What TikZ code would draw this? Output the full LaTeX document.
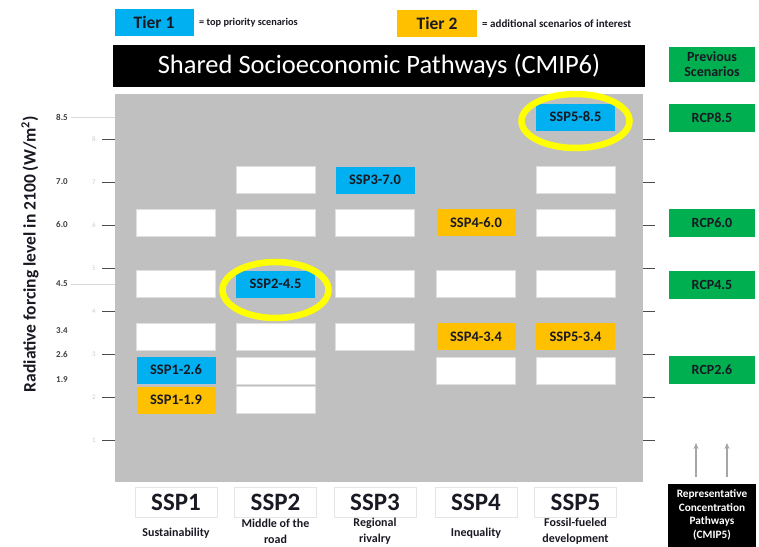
\documentclass[tikz,border=0pt]{standalone}
\usepackage{fontspec}
\setmainfont{Carlito}
\usetikzlibrary{arrows.meta}
\definecolor{tierblue}{RGB}{0,176,240}
\definecolor{tierorange}{RGB}{255,192,0}
\definecolor{rcpgreen}{RGB}{0,176,80}
\definecolor{panelgrey}{RGB}{192,192,192}
\definecolor{hiyellow}{RGB}{255,255,0}
\definecolor{txtdark}{RGB}{25,25,35}
\begin{document}
\begin{tikzpicture}[x=1pt,y=-1pt,
  scen/.style={minimum width=79pt,minimum height=27pt,inner sep=0pt,
    font=\fontsize{14.5}{14.5}\selectfont\bfseries,text=txtdark},
  blank/.style={scen,fill=white,draw=gray!25,line width=0.6pt},
  tone/.style={scen,fill=tierblue},
  ttwo/.style={scen,fill=tierorange},
  rcp/.style={fill=rcpgreen,minimum width=86pt,minimum height=28pt,inner sep=0pt,
    font=\fontsize{14}{14}\selectfont\bfseries,text=txtdark},
  ring/.style={draw=hiyellow,line width=6.5pt},
  ssp/.style={fill=white,draw=gray!20,minimum width=82pt,minimum height=30pt,inner sep=0pt,
    font=\fontsize{25}{25}\selectfont\bfseries,text=txtdark},
  sub/.style={font=\fontsize{12}{16}\selectfont\bfseries,text=txtdark,align=center},
  lev/.style={font=\fontsize{9}{9}\selectfont\bfseries,text=black!75},
  faint/.style={font=\fontsize{7}{7}\selectfont,text=black!20},
  tick/.style={draw=black!70,line width=0.8pt},
  uparrow/.style={draw=black!35,line width=1.3pt,-{Stealth[length=6pt,width=5pt]}}
]
\useasboundingbox (0,0) rectangle (759,546);
\fill[white] (0,0) rectangle (759,546);

% legend
\node[fill=tierblue,minimum width=79pt,minimum height=27pt,inner sep=0pt,
  font=\fontsize{17.5}{17.5}\selectfont\bfseries,text=txtdark] (tier1) at (154,22) {Tier 1};
\node[anchor=west,inner sep=0pt,font=\fontsize{10.3}{10.3}\selectfont\bfseries,text=txtdark]
  (tier1txt) at (199,23) {= top priority scenarios};
\node[fill=tierorange,minimum width=80pt,minimum height=27pt,inner sep=0pt,
  font=\fontsize{17.5}{17.5}\selectfont\bfseries,text=txtdark] (tier2) at (437,23) {Tier 2};
\node[anchor=west,inner sep=0pt,font=\fontsize{11}{11}\selectfont\bfseries,text=txtdark]
  (tier2txt) at (482,24) {= additional scenarios of interest};

% title
\node[fill=black,minimum width=532pt,minimum height=42pt,inner sep=0pt,
  font=\fontsize{26.5}{26.5}\selectfont,text=white] (title) at (379,66)
  {Shared Socioeconomic Pathways (CMIP6)};
\node[fill=rcpgreen,minimum width=86pt,minimum height=35pt,inner sep=0pt,align=center,
  font=\fontsize{14}{14.5}\selectfont\bfseries,text=txtdark] (prev) at (712,64)
  {Previous\\Scenarios};

% panel
\node[fill=panelgrey,minimum width=528pt,minimum height=388pt,inner sep=0pt] (panel) at (379,288) {};

% axis title
\node[rotate=90,font=\fontsize{17.5}{17.5}\selectfont\bfseries,text=txtdark] (ytitle) at (30,254)
  {Radiative forcing level in 2100 (W/m\textsuperscript{2})};

% level labels
\node[lev] (l85) at (62,117) {8.5};
\node[lev] (l70) at (62,182) {7.0};
\node[lev] (l60) at (62,224) {6.0};
\node[lev] (l45) at (62,284) {4.5};
\node[lev] (l34) at (62,331) {3.4};
\node[lev] (l26) at (62,354) {2.6};
\node[lev] (l19) at (62,380) {1.9};
\draw[black!15,line width=0.6pt] (l85.east) -- (115,117);
\draw[black!15,line width=0.6pt] (l45.east) -- (115,284);

% ticks
\foreach \v in {8,7,6,5,4,3,2,1}{
  \pgfmathsetmacro{\yy}{139+(8-\v)*43}
  \draw[tick] (102,\yy) -- (115,\yy);
  \draw[tick] (643,\yy) -- (655,\yy);
  \node[faint] at (94,\yy) {\v};
}

% scenario boxes
\node[tone] (s585) at (575.5,117) {SSP5-8.5};

\node[blank] (s270) at (275.5,180) {};
\node[tone]  (s370) at (375,180) {SSP3-7.0};
\node[blank] (s570) at (575.5,180) {};

\node[blank] (s160) at (176,222.5) {};
\node[blank] (s260) at (275.5,222.5) {};
\node[blank] (s360) at (375,222.5) {};
\node[ttwo]  (s460) at (476,222.5) {SSP4-6.0};
\node[blank] (s560) at (575.5,222.5) {};

\node[blank] (s145) at (176,284) {};
\node[tone]  (s245) at (275.5,284) {SSP2-4.5};
\node[blank] (s345) at (375,284) {};
\node[blank] (s445) at (476,284) {};
\node[blank] (s545) at (575.5,284) {};

\node[blank] (s134) at (176,336.5) {};
\node[blank] (s234) at (275.5,336.5) {};
\node[blank] (s334) at (375,336.5) {};
\node[ttwo]  (s434) at (476,336.5) {SSP4-3.4};
\node[ttwo]  (s534) at (575.5,336.5) {SSP5-3.4};

\node[tone]  (s126) at (176,370) {SSP1-2.6};
\node[blank] (s226) at (275.5,370.5) {};
\node[blank] (s426) at (476,371) {};
\node[blank] (s526) at (575.5,371) {};

\node[ttwo]  (s119) at (176,400) {SSP1-1.9};
\node[blank] (s219) at (275.5,400) {};

% highlight rings
\draw[ring] (s585.center) ++(0,4) ellipse [x radius=54pt,y radius=27pt];
\draw[ring] (s245.center) ++(0,6) ellipse [x radius=53pt,y radius=28pt];

% RCP boxes
\node[rcp] (r85) at (712,117.5) {RCP8.5};
\node[rcp] (r60) at (712,223) {RCP6.0};
\node[rcp] (r45) at (712,284.5) {RCP4.5};
\node[rcp] (r26) at (712,370) {RCP2.6};

% CMIP5 box
\node[fill=black,minimum width=88pt,minimum height=63pt,inner sep=0pt,align=center,
  font=\fontsize{11.3}{13.5}\selectfont\bfseries,text=white] (cmip5) at (712,515)
  {Representative\\Concentration\\Pathways\\(CMIP5)};
\coordinate (a1s) at (696,477);
\coordinate (a1e) at (696,443);
\coordinate (a2s) at (727,477);
\coordinate (a2e) at (727,443);
\draw[uparrow] (a1s) -- (a1e);
\draw[uparrow] (a2s) -- (a2e);

% SSP columns
\node[ssp] (ssp1) at (176,502) {SSP1};
\node[ssp] (ssp2) at (275.5,502) {SSP2};
\node[ssp] (ssp3) at (375,502) {SSP3};
\node[ssp] (ssp4) at (476,502) {SSP4};
\node[ssp] (ssp5) at (575.5,502) {SSP5};
\node[sub] (d1) at (176,533) {Sustainability};
\node[sub] (d2) at (275.5,531.5) {Middle of the\\road};
\node[sub] (d3) at (375,531.5) {Regional\\rivalry};
\node[sub] (d4) at (476,533) {Inequality};
\node[sub] (d5) at (575.5,531.5) {Fossil-fueled\\development};
\end{tikzpicture}
\end{document}
